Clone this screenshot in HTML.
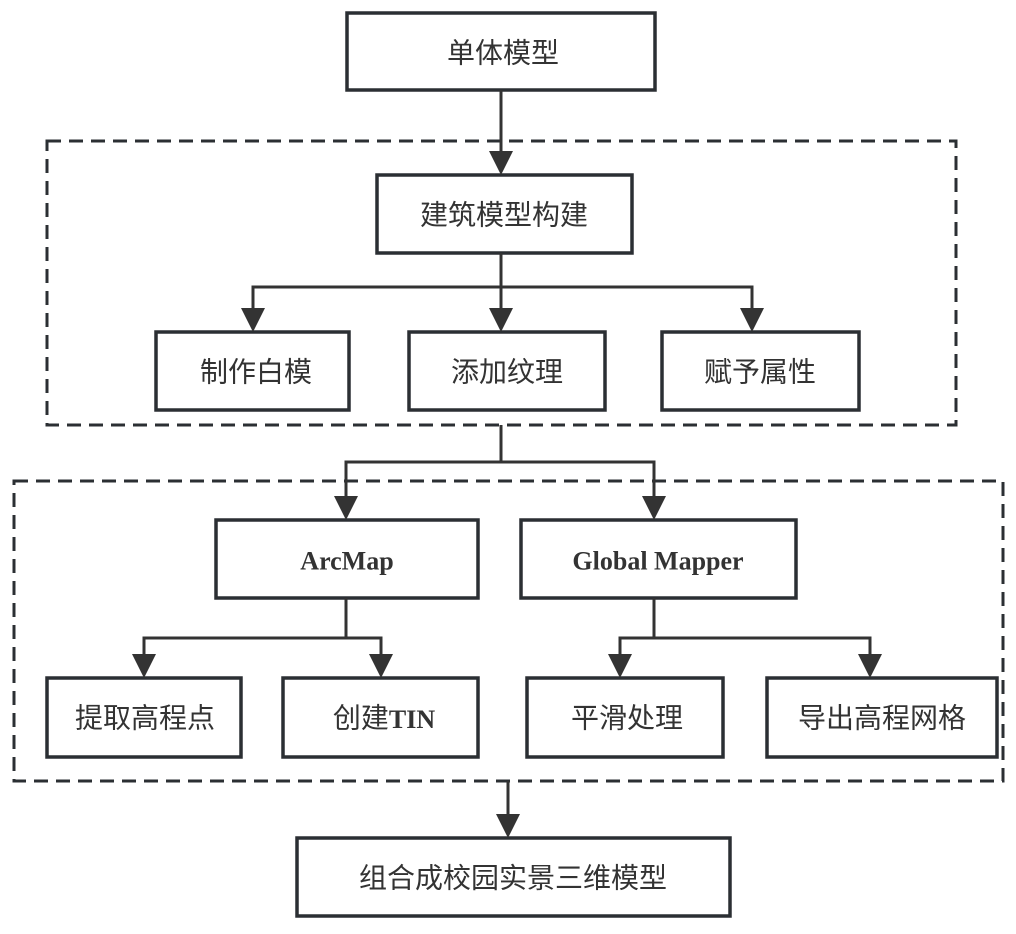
<!DOCTYPE html>
<html><head><meta charset="utf-8"><style>
html,body{margin:0;padding:0;background:#fff;}
svg{display:block;}
text{font-family:"Liberation Serif","Noto Sans CJK SC",serif;font-size:28px;fill:#333;text-anchor:middle;dominant-baseline:central;}
.b{font-weight:bold;font-size:26px;}
</style></head><body>
<svg width="1016" height="934" viewBox="0 0 1016 934" xmlns="http://www.w3.org/2000/svg">
<g fill="none" stroke="#2b2f33" stroke-width="3" stroke-dasharray="14 8">
<rect x="47" y="141" width="909" height="284"/>
<rect x="14" y="481" width="989" height="300"/>
</g>
<g fill="#fff" stroke="#2b2f33" stroke-width="3.5">
<rect x="347" y="13" width="308" height="77"/>
<rect x="377" y="175" width="255" height="78"/>
<rect x="156" y="332" width="193" height="78"/>
<rect x="409" y="332" width="196" height="78"/>
<rect x="662" y="332" width="197" height="78"/>
<rect x="216" y="520" width="262" height="78"/>
<rect x="521" y="520" width="275" height="78"/>
<rect x="47" y="678" width="194" height="79"/>
<rect x="283" y="678" width="195" height="79"/>
<rect x="527" y="678" width="196" height="79"/>
<rect x="767" y="678" width="230" height="79"/>
<rect x="297" y="838" width="433" height="78"/>
</g>
<g fill="none" stroke="#333" stroke-width="3">
<path d="M501,90 V160" />
<path d="M501,253 V320"/>
<path d="M253,320 V287 H752 V320"/>
<path d="M501,425 V462 M346,505 V462 H654 V505"/>
<path d="M346,598 V638 M144,665 V638 H381 V665"/>
<path d="M654,598 V638 M620,665 V638 H870 V665"/>
<path d="M508,781 V825"/>
</g>
<g fill="#333">
<path d="M489,151 L513,151 L501,175 z"/>
<path d="M489,308 L513,308 L501,332 z"/>
<path d="M241,308 L265,308 L253,332 z"/>
<path d="M740,308 L764,308 L752,332 z"/>
<path d="M334,496 L358,496 L346,520 z"/>
<path d="M642,496 L666,496 L654,520 z"/>
<path d="M132,654 L156,654 L144,678 z"/>
<path d="M369,654 L393,654 L381,678 z"/>
<path d="M608,654 L632,654 L620,678 z"/>
<path d="M858,654 L882,654 L870,678 z"/>
<path d="M496,814 L520,814 L508,838 z"/>
</g>
<text x="503" y="54">单体模型</text>
<text x="504" y="216">建筑模型构建</text>
<text x="256" y="373">制作白模</text>
<text x="507" y="373">添加纹理</text>
<text x="760" y="373">赋予属性</text>
<text x="347" y="561" class="b">ArcMap</text>
<text x="658" y="561" class="b">Global Mapper</text>
<text x="145" y="719">提取高程点</text>
<text x="384" y="719">创建<tspan class="b">TIN</tspan></text>
<text x="627" y="719">平滑处理</text>
<text x="882" y="719">导出高程网格</text>
<text x="513" y="879">组合成校园实景三维模型</text>
</svg>
</body></html>
